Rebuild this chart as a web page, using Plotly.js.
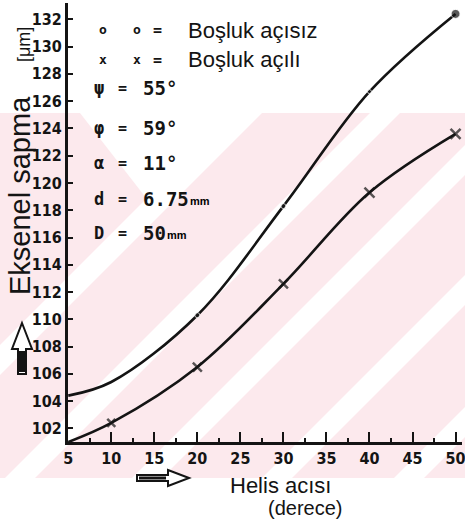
<!DOCTYPE html>
<html>
<head>
<meta charset="utf-8">
<script src="https://cdn.plot.ly/plotly-3.0.1.min.js"></script>
<style>html,body{margin:0;padding:0;background:#fff;}#chart{width:465px;height:525px;}</style>
</head>
<body>
<div id="chart"></div>
<script>
// ---- data ----
const helixAngle = [5, 10, 20, 30, 40, 50];                       // Helis açısı (derece)
const sapmaAcisiz = [104.4, 105.4, 110.3, 118.3, 126.7, 132.4];   // o o = Boşluk açısız
const sapmaAcili  = [101.0, 102.4, 106.5, 112.6, 119.3, 123.6];   // x x = Boşluk açılı
const xTickVals = [5, 10, 15, 20, 25, 30, 35, 40, 45, 50];
const yTickVals = [102, 104, 106, 108, 110, 112, 114, 116, 118, 120, 122, 124, 126, 128, 130, 132];
const seriesNames = ['Boşluk açısız', 'Boşluk açılı'];
const paramSymbols = ['ψ', 'φ', 'α', 'd', 'D'];
const paramValues = ['55°', '59°', '11°', '6.75', '50'];
const paramUnits = ['', '', '', 'mm', 'mm'];

// ---- layout helpers (pixel -> paper) ----
const L = 68, R = 3, T = 3, B = 83, W = 465, H = 525;
const pw = W - L - R, ph = H - T - B;
const X = p => (p - L) / pw;
const Y = p => (H - B - p) / ph;
const INK = '#141414';

function ann(text, px, py, size, extra) {
  return Object.assign({
    xref: 'paper', yref: 'paper', x: X(px), y: Y(py), text: text, showarrow: false,
    xanchor: 'center', yanchor: 'middle',
    font: {family: 'Liberation Sans, Arial, sans-serif', size: size, color: INK}
  }, extra || {});
}
function poly(pts, fill, line) {
  const d = pts.map((p, i) => (i ? 'L' : 'M') + X(p[0]).toFixed(5) + ',' + Y(p[1]).toFixed(5)).join(' ') + ' Z';
  return {type: 'path', xref: 'paper', yref: 'paper', path: d, fillcolor: fill,
          line: line || {width: 0}, layer: 'below'};
}

const shapes = [];
// watermark: pink field with white diagonal stripes
shapes.push(poly([[0,113],[465,113],[465,478],[0,478]], '#fce9ed'));
[360, 498, 625, 755, 887].forEach(c => {
  const h = 15;
  shapes.push(poly([[c-h-100,100],[c+h-100,100],[c+h-490,490],[c-h-490,490]], '#ffffff'));
});
shapes.push(poly([[80,113],[250,113],[157,212]], '#ffffff'));

// y-title arrow (up) and x-title arrow (right)
const arrowLine = {width: 2, color: INK};
shapes.push(Object.assign(poly([[22,323],[32,349],[26,349],[26,374],[18,374],[18,349],[12,349]], '#ffffff', arrowLine), {layer: 'above'}));
shapes.push(Object.assign(poly([[19,351],[25,351],[25,372],[19,372]], INK), {layer: 'above'}));
shapes.push(Object.assign(poly([[189,478],[168,470],[168,475],[137,475],[137,481],[168,481],[168,486]], '#ffffff', arrowLine), {layer: 'above'}));
shapes.push(Object.assign(poly([[139,476.5],[166,476.5],[166,479.5],[139,479.5]], INK), {layer: 'above'}));

const annotations = [];
const mono = 'DejaVu Sans Mono, Liberation Mono, monospace';
const monoFont = s => ({family: mono, size: s, color: INK, weight: 'bold'});
// legend-like key rows
annotations.push(ann('<b>o</b>', 103, 29, 13, {font: monoFont(13)}));
annotations.push(ann('<b>o</b>', 137, 29, 13, {font: monoFont(13)}));
annotations.push(ann('<b>=</b>', 157, 30, 15, {font: monoFont(15)}));
annotations.push(ann(seriesNames[0], 186, 30, 22, {xanchor: 'left'}));
annotations.push(ann('<b>x</b>', 103, 60, 13, {font: monoFont(13)}));
annotations.push(ann('<b>x</b>', 137, 60, 13, {font: monoFont(13)}));
annotations.push(ann('<b>=</b>', 157, 60, 15, {font: monoFont(15)}));
annotations.push(ann(seriesNames[1], 186, 60, 22, {xanchor: 'left'}));
const rowY = [88, 128, 163, 199, 233];
const valWidth = v => v.length * 11.45;
paramSymbols.forEach((s, i) => {
  annotations.push(ann('<b>' + s + '</b>', 99, rowY[i], 17, {font: monoFont(17)}));
  annotations.push(ann('<b>=</b>', 122, rowY[i], 15, {font: monoFont(15)}));
  annotations.push(ann('<b>' + paramValues[i] + '</b>', 141, rowY[i], 19,
    {xanchor: 'left', font: monoFont(19)}));
  if (paramUnits[i]) {
    annotations.push(ann(paramUnits[i], 142 + valWidth(paramValues[i]), rowY[i] + 2, 11,
      {xanchor: 'left', font: {family: 'Liberation Sans, Arial, sans-serif', size: 11, color: '#000000', weight: 'bold'}}));
  }
});
// axis titles
annotations.push(ann('Eksenel sapma', 20, 196, 29, {textangle: -90}));
annotations.push(ann('[μm]', 24, 45, 18, {textangle: -90}));
annotations.push(ann('Helis acısı', 280, 485, 22));
annotations.push(ann('(derece)', 305, 508, 20));

const traces = [
  {x: helixAngle, y: sapmaAcisiz, name: seriesNames[0], type: 'scatter', mode: 'lines+markers',
   line: {shape: 'spline', smoothing: 1, color: INK, width: 2.6},
   marker: {symbol: 'circle', size: [0, 0, 5, 5, 4, 9], color: INK}},
  {x: helixAngle, y: sapmaAcili, name: seriesNames[1], type: 'scatter', mode: 'lines+markers',
   line: {shape: 'spline', smoothing: 1, color: INK, width: 2.6},
   marker: {symbol: 'x-thin', size: [0, 8, 9, 9, 10, 10], color: INK, line: {color: INK, width: 2.5}}}
];

const tickFont = {family: 'DejaVu Sans Condensed, Liberation Sans Narrow, Liberation Sans, sans-serif', size: 16, color: INK, weight: 'bold'};
const layout = {
  width: W, height: H, margin: {l: L, r: R, t: T, b: B, pad: 0},
  paper_bgcolor: '#ffffff', plot_bgcolor: 'rgba(0,0,0,0)',
  showlegend: false,
  xaxis: {range: [4.97, 50.75], tickvals: xTickVals, ticktext: xTickVals.map(String),
          ticks: 'inside', ticklen: 10, tickwidth: 2, tickcolor: INK, ticklabeloverflow: 'allow',
          minor: {dtick: 2.5, tick0: 5, ticks: 'inside', ticklen: 4, tickwidth: 2, tickcolor: INK},
          showline: true, linewidth: 3, linecolor: INK, showgrid: false, zeroline: false,
          tickfont: tickFont},
  yaxis: {range: [101, 133.2], tickvals: yTickVals, ticktext: yTickVals.map(String),
          ticks: 'inside', ticklen: 5, tickwidth: 2, tickcolor: INK, ticklabeloverflow: 'allow',
          showline: true, linewidth: 3, linecolor: INK, showgrid: false, zeroline: false,
          tickfont: tickFont},
  shapes: shapes, annotations: annotations
};
Plotly.newPlot('chart', traces, layout, {staticPlot: true, displayModeBar: false});
</script>
</body>
</html>
